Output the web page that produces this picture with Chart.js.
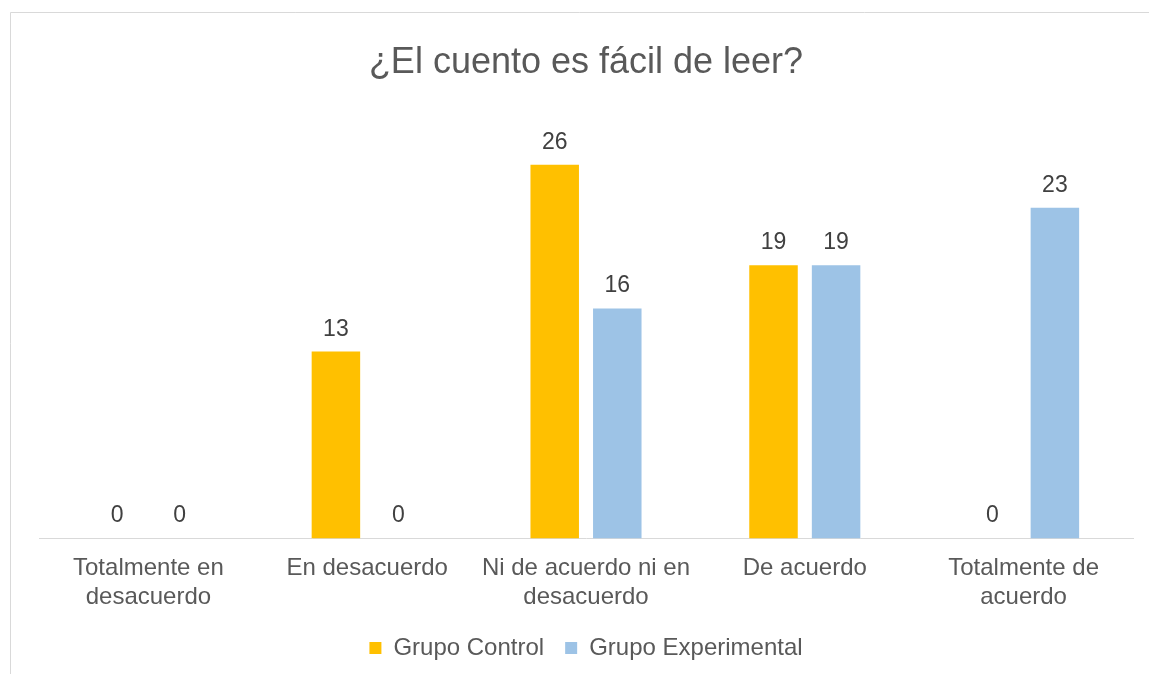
<!DOCTYPE html>
<html>
<head>
<meta charset="utf-8">
<script src="https://cdn.jsdelivr.net/npm/chart.js@4.4.1/dist/chart.umd.min.js"></script>
<style>
  html, body { margin: 0; padding: 0; background: #ffffff; }
  #wrap { position: relative; width: 1149px; height: 674px; }
</style>
</head>
<body>
<div id="wrap"><canvas id="c" width="1149" height="674"></canvas></div>
<script>
const categories = [
  ["Totalmente en", "desacuerdo"],
  "En desacuerdo",
  ["Ni de acuerdo ni en", "desacuerdo"],
  "De acuerdo",
  ["Totalmente de", "acuerdo"]
];
const grupoControl = [0, 13, 26, 19, 0];
const grupoExperimental = [0, 0, 16, 19, 23];
const seriesNames = ["Grupo Control", "Grupo Experimental"];
const chartTitle = "¿El cuento es fácil de leer?";

const FONT = "'Liberation Sans', Arial, sans-serif";

const frame = {
  id: 'frame',
  beforeDraw(chart) {
    const ctx = chart.ctx;
    ctx.save();
    ctx.fillStyle = '#ffffff';
    ctx.fillRect(0, 0, chart.width, chart.height);
    ctx.strokeStyle = '#D9D9D9';
    ctx.lineWidth = 1;
    ctx.beginPath();
    ctx.moveTo(10.5, chart.height);
    ctx.lineTo(10.5, 12.5);
    ctx.lineTo(chart.width, 12.5);
    ctx.stroke();
    ctx.restore();
  }
};

const valueLabels = {
  id: 'valueLabels',
  afterDatasetsDraw(chart) {
    const ctx = chart.ctx;
    ctx.save();
    ctx.font = "23px " + FONT;
    ctx.fillStyle = '#404040';
    ctx.textAlign = 'center';
    ctx.textBaseline = 'alphabetic';
    chart.data.datasets.forEach((ds, di) => {
      const meta = chart.getDatasetMeta(di);
      meta.data.forEach((bar, i) => {
        ctx.fillText(String(ds.data[i]), bar.x, bar.y - 16);
      });
    });
    ctx.restore();
  }
};

new Chart(document.getElementById('c'), {
  type: 'bar',
  data: {
    labels: categories,
    datasets: [
      { label: seriesNames[0], data: grupoControl, backgroundColor: '#FFC000', borderWidth: 0 },
      { label: seriesNames[1], data: grupoExperimental, backgroundColor: '#9DC3E6', borderWidth: 0 }
    ]
  },
  options: {
    responsive: false,
    animation: false,
    devicePixelRatio: 1,
    layout: { padding: { left: 39, right: 16, top: 0, bottom: 4 } },
    datasets: { bar: { categoryPercentage: 0.572, barPercentage: 0.775 } },
    scales: {
      x: {
        grid: { display: false, drawTicks: false },
        border: { display: true, color: '#D9D9D9', width: 1 },
        ticks: { color: '#595959', font: { family: FONT, size: 24 }, padding: 16, maxRotation: 0, autoSkip: false },
        afterFit(scale) { scale.height = scale.height - 13; }
      },
      y: {
        display: false,
        min: 0,
        max: 30
      }
    },
    plugins: {
      title: {
        display: true,
        text: chartTitle,
        color: '#595959',
        font: { family: FONT, size: 36, weight: 'normal' },
        padding: { top: 41, bottom: 23 }
      },
      legend: {
        position: 'bottom',
        labels: { color: '#595959', font: { family: FONT, size: 24 }, boxWidth: 12, boxHeight: 12, padding: 21 }
      },
      tooltip: { enabled: false }
    }
  },
  plugins: [frame, valueLabels]
});
</script>
</body>
</html>
